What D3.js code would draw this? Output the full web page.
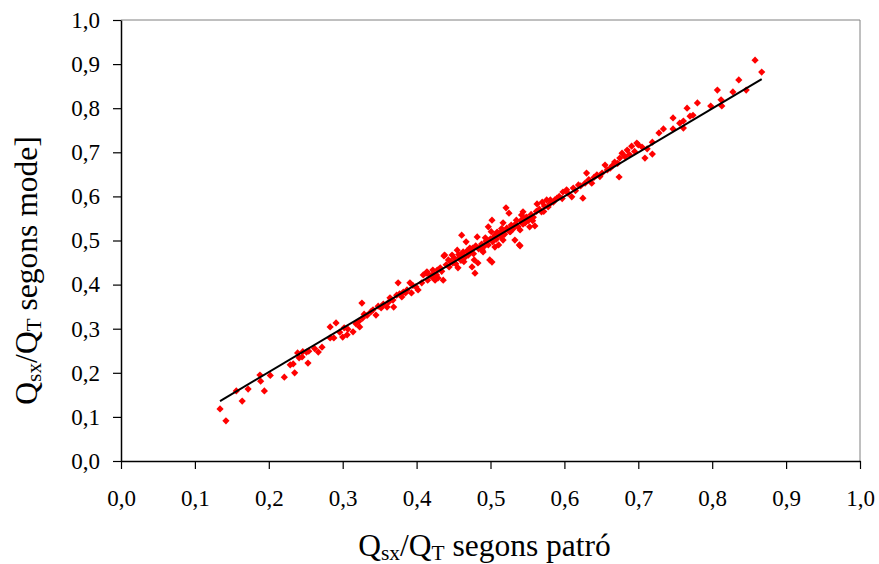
<!DOCTYPE html>
<html>
<head>
<meta charset="utf-8">
<script src="https://cdn.jsdelivr.net/npm/d3@7"></script>
<style>
  body { margin: 0; background: #fff; }
  svg text { font-family: "Liberation Serif", "Times New Roman", Times, "DejaVu Serif", serif; fill: #000; }
</style>
</head>
<body>
<div id="chart"></div>
<script>
// Q_sx/Q_T segons patró (x) vs segons model (y)
const patro = [
  0.134, 0.142, 0.156, 0.164, 0.172, 0.188, 0.189, 0.194, 0.202, 0.221,
  0.229, 0.233, 0.235, 0.239, 0.241, 0.245, 0.251, 0.254, 0.253, 0.267,
  0.272, 0.283, 0.291, 0.283, 0.288, 0.300, 0.302, 0.307, 0.306, 0.314,
  0.323, 0.322, 0.327, 0.329, 0.326, 0.338, 0.345, 0.348, 0.355, 0.360,
  0.364, 0.369, 0.368, 0.373, 0.375, 0.380, 0.382, 0.387, 0.391, 0.393,
  0.399, 0.402, 0.407, 0.413, 0.415, 0.421, 0.425, 0.428, 0.409, 0.414,
  0.422, 0.429, 0.436, 0.437, 0.443, 0.448, 0.449, 0.455, 0.456, 0.461,
  0.463, 0.467, 0.470, 0.472, 0.475, 0.478, 0.479, 0.482, 0.483, 0.486,
  0.490, 0.493, 0.495, 0.497, 0.499, 0.502, 0.504, 0.506, 0.509, 0.511,
  0.513, 0.517, 0.517, 0.521, 0.523, 0.525, 0.529, 0.533, 0.535, 0.539,
  0.540, 0.542, 0.547, 0.549, 0.544, 0.551, 0.553, 0.560, 0.563, 0.570,
  0.576, 0.578, 0.585, 0.590, 0.598, 0.603, 0.610, 0.612, 0.619, 0.625,
  0.628, 0.630, 0.637, 0.644, 0.651, 0.655, 0.662, 0.668, 0.674, 0.675,
  0.678, 0.685, 0.691, 0.698, 0.709, 0.719, 0.700, 0.719, 0.728, 0.734,
  0.747, 0.747, 0.756, 0.761, 0.761, 0.766, 0.770, 0.774, 0.780, 0.798,
  0.807, 0.812, 0.813, 0.828, 0.836, 0.846, 0.858, 0.867, 0.540, 0.502,
  0.438, 0.581, 0.440, 0.444, 0.446, 0.451, 0.453, 0.458, 0.460, 0.462,
  0.465, 0.468, 0.471, 0.474, 0.477, 0.480, 0.484, 0.488, 0.491, 0.494,
  0.497, 0.500, 0.503, 0.506, 0.508, 0.511, 0.514, 0.516, 0.519, 0.522,
  0.526, 0.528, 0.531, 0.534, 0.537, 0.541, 0.544, 0.548, 0.552, 0.555,
  0.558, 0.562, 0.566, 0.569, 0.573, 0.580, 0.587, 0.593, 0.597, 0.605,
  0.615, 0.622, 0.633, 0.640, 0.648, 0.658, 0.665, 0.672, 0.682, 0.688,
  0.695, 0.705, 0.712, 0.418, 0.423, 0.427, 0.432, 0.434, 0.395, 0.385,
  0.377, 0.362, 0.352, 0.341, 0.333, 0.318, 0.296, 0.262, 0.246,
  0.457, 0.464, 0.476, 0.489, 0.501, 0.515, 0.527, 0.545, 0.557, 0.572
];
const model = [
  0.118, 0.091, 0.159, 0.136, 0.163, 0.195, 0.181, 0.159, 0.194, 0.190,
  0.218, 0.220, 0.200, 0.245, 0.234, 0.236, 0.247, 0.249, 0.222, 0.247,
  0.258, 0.304, 0.313, 0.279, 0.279, 0.281, 0.302, 0.299, 0.286, 0.293,
  0.304, 0.317, 0.324, 0.333, 0.358, 0.338, 0.331, 0.351, 0.356, 0.349,
  0.370, 0.349, 0.365, 0.376, 0.404, 0.372, 0.383, 0.388, 0.404, 0.381,
  0.395, 0.388, 0.404, 0.426, 0.410, 0.417, 0.410, 0.433, 0.422, 0.429,
  0.433, 0.415, 0.410, 0.465, 0.456, 0.467, 0.449, 0.478, 0.438, 0.512,
  0.474, 0.497, 0.467, 0.483, 0.440, 0.456, 0.426, 0.508, 0.449, 0.485,
  0.474, 0.506, 0.497, 0.531, 0.456, 0.546, 0.506, 0.485, 0.519, 0.490,
  0.512, 0.540, 0.501, 0.574, 0.524, 0.562, 0.531, 0.501, 0.546, 0.490,
  0.524, 0.558, 0.540, 0.553, 0.565, 0.545, 0.531, 0.533, 0.583, 0.587,
  0.592, 0.576, 0.587, 0.596, 0.610, 0.615, 0.599, 0.619, 0.626, 0.596,
  0.630, 0.653, 0.630, 0.649, 0.653, 0.671, 0.664, 0.678, 0.644, 0.687,
  0.698, 0.705, 0.714, 0.721, 0.687, 0.696, 0.717, 0.723, 0.744, 0.753,
  0.778, 0.753, 0.766, 0.771, 0.755, 0.800, 0.782, 0.784, 0.812, 0.805,
  0.841, 0.819, 0.805, 0.837, 0.864, 0.841, 0.909, 0.882, 0.488, 0.451,
  0.467, 0.592, 0.445, 0.440, 0.452, 0.460, 0.447, 0.462, 0.455, 0.470,
  0.461, 0.476, 0.472, 0.479, 0.470, 0.488, 0.481, 0.492, 0.486, 0.499,
  0.490, 0.504, 0.497, 0.512, 0.503, 0.515, 0.509, 0.522, 0.514, 0.528,
  0.520, 0.535, 0.527, 0.538, 0.532, 0.545, 0.537, 0.552, 0.548, 0.559,
  0.553, 0.566, 0.571, 0.565, 0.578, 0.583, 0.592, 0.600, 0.595, 0.607,
  0.613, 0.624, 0.638, 0.643, 0.645, 0.660, 0.670, 0.675, 0.690, 0.695,
  0.702, 0.712, 0.708, 0.421, 0.425, 0.422, 0.438, 0.430, 0.398, 0.381,
  0.379, 0.360, 0.347, 0.343, 0.330, 0.311, 0.292, 0.255, 0.248,
  0.468, 0.452, 0.483, 0.478, 0.520, 0.527, 0.520, 0.550, 0.545, 0.566
];

// trend line end points
const fitX = [0.134, 0.867];
const fitY = [0.136, 0.866];

const tickValues = [0, 0.1, 0.2, 0.3, 0.4, 0.5, 0.6, 0.7, 0.8, 0.9, 1.0];
const tickLabels = ["0,0", "0,1", "0,2", "0,3", "0,4", "0,5", "0,6", "0,7", "0,8", "0,9", "1,0"];

const W = 879, H = 564;
const margin = {top: 20, right: 19, bottom: 103, left: 121};
const width = W - margin.left - margin.right;
const height = H - margin.top - margin.bottom;

const svg = d3.select("#chart").append("svg")
    .attr("width", W)
    .attr("height", H);

svg.append("rect").attr("width", W).attr("height", H).attr("fill", "#fff");

const g = svg.append("g")
    .attr("transform", "translate(" + margin.left + "," + margin.top + ")");

const x = d3.scaleLinear().domain([0, 1]).range([0, width]);
const y = d3.scaleLinear().domain([0, 1]).range([height, 0]);

const fmt = d => tickLabels[tickValues.findIndex(v => Math.abs(v - d) < 1e-9)];

// top and right frame lines (grey)
g.append("line").attr("x1", 0).attr("x2", width).attr("y1", 0).attr("y2", 0)
    .attr("stroke", "#808080").attr("stroke-width", 1);
g.append("line").attr("x1", width).attr("x2", width).attr("y1", 0).attr("y2", height)
    .attr("stroke", "#808080").attr("stroke-width", 1);

const xAxis = d3.axisBottom(x).tickValues(tickValues).tickFormat(fmt)
    .tickSize(8).tickSizeOuter(0).tickPadding(21);
const yAxis = d3.axisLeft(y).tickValues(tickValues).tickFormat(fmt)
    .tickSize(8).tickSizeOuter(0).tickPadding(13);

const gx = g.append("g")
    .attr("transform", "translate(0," + height + ")")
    .call(xAxis);
const gy = g.append("g").call(yAxis);

[gx, gy].forEach(a => {
    a.attr("font-family", null).attr("font-size", null);
    a.selectAll("path.domain").attr("stroke", "#000").attr("stroke-width", 1.5);
    a.selectAll(".tick line").attr("stroke", "#000").attr("stroke-width", 1.2);
    a.selectAll(".tick text")
        .attr("font-size", 23)
        .attr("fill", "#000");
});

// scatter points (red diamonds)
const diamond = d3.symbol().type(d3.symbolSquare).size(26);
g.append("g").selectAll("path")
    .data(patro.map((d, i) => [d, model[i]]))
    .join("path")
    .attr("d", diamond)
    .attr("transform", d => "translate(" + x(d[0]) + "," + y(d[1]) + ") rotate(45)")
    .attr("fill", "#ff0000");

// trend line
g.append("path")
    .datum(fitX.map((d, i) => [d, fitY[i]]))
    .attr("fill", "none")
    .attr("stroke", "#000")
    .attr("stroke-width", 2)
    .attr("d", d3.line().x(d => x(d[0])).y(d => y(d[1])));

// axis titles with subscripts
function qTitle(sel, rest) {
    sel.append("tspan").text("Q");
    sel.append("tspan").attr("font-size", "0.68em").attr("dy", "0.18em").text("sx");
    sel.append("tspan").attr("dy", "-0.12em").text("/Q");
    sel.append("tspan").attr("font-size", "0.68em").attr("dy", "0.18em").text("T");
    sel.append("tspan").attr("dy", "-0.12em").text(" " + rest);
}

svg.append("text")
    .attr("x", margin.left + x(0.5) - 6)
    .attr("y", 556)
    .attr("text-anchor", "middle")
    .attr("font-size", 31.5)
    .call(qTitle, "segons patró");

svg.append("text")
    .attr("transform", "translate(37," + (margin.top + y(0.5) + 30) + ") rotate(-90)")
    .attr("text-anchor", "middle")
    .attr("font-size", 31.5)
    .call(qTitle, "segons mode]");
</script>
</body>
</html>
